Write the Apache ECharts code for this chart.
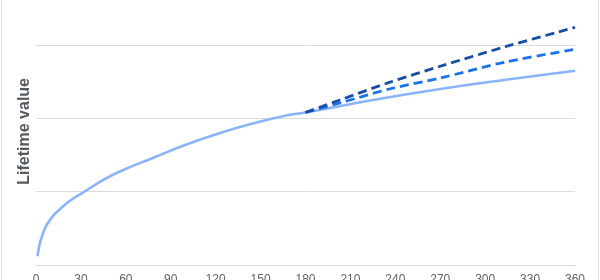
<!DOCTYPE html>
<html>
<head>
<meta charset="utf-8">
<script src="https://cdn.jsdelivr.net/npm/echarts@6/dist/echarts.min.js"></script>
<style>
html,body{margin:0;padding:0;background:#fff;}
#c{position:absolute;left:0;top:0;width:600px;height:280px;}
</style>
</head>
<body>
<div id="c"></div>
<script>
// x ticks (days)
const xTicks = [0, 30, 60, 90, 120, 150, 180, 210, 240, 270, 300, 330, 360];
const yAxisTitle = 'Lifetime value';

// Actual lifetime value curve
const actualDays   = [1, 2, 3, 5, 7, 11, 16, 22, 30, 45, 56, 78, 100, 123, 145, 167, 180, 225, 270, 315, 360];
const actualValues = [0.12, 0.24, 0.33, 0.45, 0.54, 0.66, 0.76, 0.865, 0.97, 1.16, 1.275, 1.46, 1.64, 1.80, 1.93, 2.04, 2.08, 2.25, 2.40, 2.53, 2.65];

// Projection (medium)
const midDays   = [180, 203, 236, 270, 314, 360];
const midValues = [2.08, 2.21, 2.40, 2.55, 2.77, 2.94];

// Projection (high)
const highDays   = [180, 203, 236, 270, 314, 360];
const highValues = [2.08, 2.25, 2.49, 2.71, 2.98, 3.24];

const pair = (d, v) => d.map((x, i) => [x, v[i]]);

const chart = echarts.init(document.getElementById('c'), null, {renderer: 'canvas'});
chart.setOption({
  animation: false,
  grid: {left: 36, right: 25, top: -28.33, bottom: 15, containLabel: false, outerBoundsMode: 'none'},
  xAxis: {
    type: 'value', min: 0, max: 360, interval: 30,
    axisLine: {show: true, lineStyle: {color: '#dadce0', width: 1}},
    axisTick: {show: false},
    splitLine: {show: false},
    axisLabel: {
      color: '#5f6368', fontSize: 12, margin: 9,
      fontFamily: 'Liberation Sans, Arial, sans-serif',
      formatter: v => xTicks.includes(v) ? String(v) : ''
    }
  },
  yAxis: {
    type: 'value', min: 0, max: 4, interval: 1,
    axisLine: {show: false}, axisTick: {show: false},
    axisLabel: {show: false},
    splitLine: {show: true, lineStyle: {color: '#dadce0', width: 1}}
  },
  graphic: [
    {type: 'text', left: 17, top: 78, rotation: Math.PI / 2,
     style: {text: yAxisTitle, fill: '#555a60', font: 'bold 16px "Liberation Sans", Arial, sans-serif'}},
    {type: 'line', shape: {x1: 1.5, y1: 0, x2: 1.5, y2: 280}, style: {stroke: '#dadce0', lineWidth: 1}},
    {type: 'line', shape: {x1: 598.5, y1: 0, x2: 598.5, y2: 280}, style: {stroke: '#dadce0', lineWidth: 1}}
  ],
  series: [
    {type: 'line', data: pair(actualDays, actualValues), smooth: 0.5, showSymbol: false, clip: false,
     lineStyle: {color: '#8ab4f8', width: 2.6}},
    {type: 'line', data: pair(midDays, midValues), smooth: 0.3, showSymbol: false, clip: false,
     lineStyle: {color: '#1a73e8', width: 2.8, type: [9, 5]}},
    {type: 'line', data: pair(highDays, highValues), smooth: 0.3, showSymbol: false, clip: false,
     lineStyle: {color: '#174ea6', width: 2.8, type: [9, 5]}}
  ]
});
</script>
</body>
</html>
